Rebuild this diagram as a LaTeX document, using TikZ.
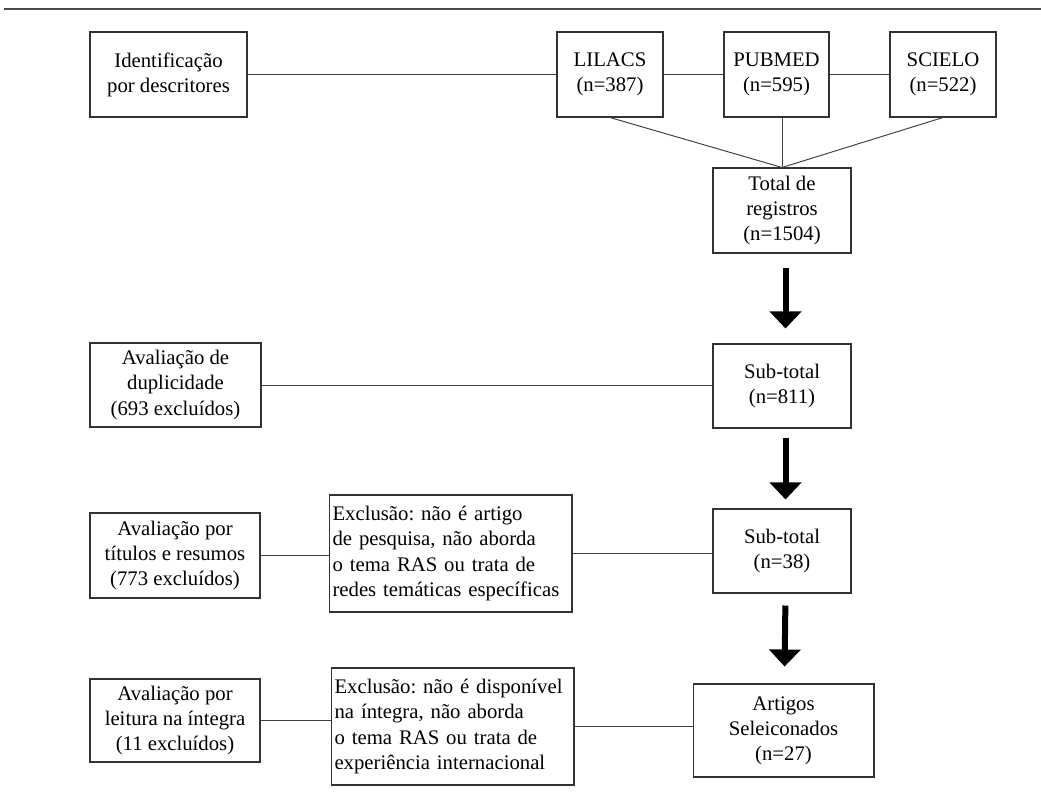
\documentclass[tikz,border=0pt]{standalone}
\usepackage{fontspec}
\setmainfont{Liberation Serif}
\usepackage{tikz}
\usetikzlibrary{arrows.meta,positioning}
\frenchspacing

\begin{document}
\begin{tikzpicture}[
  x=0.02cm, y=-0.02cm,
  caixa/.style={draw=black!80, line width=0.6pt, align=center, inner sep=2pt,
                font=\fontsize{11.8}{14.3}\selectfont},
  exclusao/.style={caixa, align=left, text width=4.72cm, inner xsep=0.07cm,
                   minimum width=4.86cm, minimum height=2.34cm},
  liga/.style={draw=black!75, line width=0.55pt},
  seta/.style={-{Triangle[width=0.62cm,length=0.34cm]}, line width=0.12cm}
]
  \useasboundingbox (0,0) rectangle (1041,797);

  % Filete do topo
  \draw[black!70, line width=1.4pt] (4,9) -- (1041,9);

  % Identificacao e bases
  \node[caixa, minimum width=3.14cm, minimum height=1.7cm]
    (ident) at (168.5,74.5) {Identificação\\por descritores};
  \node[caixa, minimum width=2.12cm, minimum height=1.7cm]
    (lilacs) at (610,74.5) {LILACS\\(n=387)};
  \node[caixa, minimum width=2.1cm, minimum height=1.7cm]
    (pubmed) at (776.5,74.5) {PUBMED\\(n=595)};
  \node[caixa, minimum width=2.12cm, minimum height=1.7cm]
    (scielo) at (943,74.5) {SCIELO\\(n=522)};

  % Total
  \node[caixa, minimum width=2.76cm, minimum height=1.7cm]
    (total) at (782,210.5) {Total de\\registros\\(n=1504)};

  % Duplicidade
  \node[caixa, minimum width=3.42cm, minimum height=1.68cm]
    (dup) at (175.5,385) {Avaliação de\\duplicidade\\(693 excluídos)};
  \node[caixa, minimum width=2.76cm, minimum height=1.68cm]
    (sub1) at (782,386) {Sub-total\\(n=811)};

  % Titulos e resumos
  \node[caixa, minimum width=3.4cm, minimum height=1.7cm]
    (titres) at (175,555.5) {Avaliação por\\títulos e resumos\\(773 excluídos)};
  \node[exclusao] (excl1) at (450.5,553.5)
    {Exclusão: não é artigo\\de pesquisa, não aborda\\o tema RAS ou trata de\\redes temáticas específicas};
  \node[caixa, minimum width=2.76cm, minimum height=1.68cm]
    (sub2) at (782,551) {Sub-total\\(n=38)};

  % Leitura na integra
  \node[caixa, minimum width=3.4cm, minimum height=1.66cm]
    (leit) at (175,720.5) {Avaliação por\\leitura na íntegra\\(11 excluídos)};
  \node[exclusao] (excl2) at (452.5,726.5)
    {Exclusão: não é disponível\\na íntegra, não aborda\\o tema RAS ou trata de\\experiência internacional};
  \node[caixa, minimum width=3.62cm, minimum height=1.86cm]
    (artigos) at (783.5,730.5) {Artigos\\Seleiconados\\(n=27)};

  % Ligacoes
  \draw[liga] (ident.east) -- (lilacs.west);
  \draw[liga] (lilacs.east) -- (pubmed.west);
  \draw[liga] (pubmed.east) -- (scielo.west);
  \draw[liga] (lilacs.south) -- (total.north);
  \draw[liga] (total.north |- pubmed.south) -- (total.north);
  \draw[liga] (scielo.south) -- (total.north);
  \draw[liga] (dup.east) -- (dup.east -| sub1.west);
  \draw[liga] (titres.east) -- (titres.east -| excl1.west);
  \draw[liga] (excl1.east) -- (excl1.east -| sub2.west);
  \draw[liga] (leit.east) -- (leit.east -| excl2.west);
  \draw[liga] (excl2.east) -- (excl2.east -| artigos.west);

  % Setas
  \draw[seta, shorten <=0.28cm, shorten >=0.3cm] ([xshift=2]total.south) -- ([xshift=2]sub1.north);
  \draw[seta, shorten <=0.18cm, shorten >=0.18cm] ([xshift=2]sub1.south) -- ([xshift=2]sub2.north);
  \draw[seta, shorten <=0.24cm, shorten >=0.34cm] ([xshift=2]sub2.south) -- ([xshift=0.5]artigos.north);

\end{tikzpicture}
\end{document}
